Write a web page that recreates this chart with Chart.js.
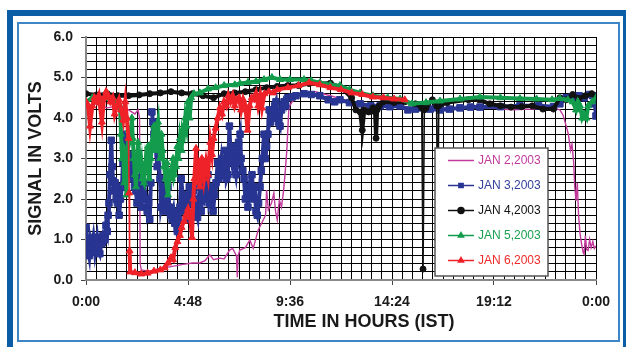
<!DOCTYPE html>
<html>
<head>
<meta charset="utf-8">
<script src="https://cdn.jsdelivr.net/npm/chart.js@4.4.1/dist/chart.umd.min.js"></script>
<style>
  body { margin: 0; width: 627px; height: 347px; overflow: hidden; position: relative; background: #fff; }
  .outer { position: absolute; left: 7px; top: 10px; width: 619px; height: 400px; box-sizing: border-box;
           border-top: 6px solid #0b5da6; border-left: 6px solid #0b5da6; border-right: 3px solid #0b5da6; }
  .inner { position: absolute; left: 17px; top: 22px; width: 603px; height: 320px; box-sizing: border-box;
           border: 2px solid #3f86c8; }
  #c { position: absolute; left: 0; top: 0; }
  .xtitle { position: absolute; left: 214px; width: 300px; top: 311px; text-align: center;
            font: bold 18px "Liberation Sans", Arial, sans-serif; line-height: 20px; color: #1a1a1a; }
</style>
</head>
<body>
<div class="outer"></div>
<div class="inner"></div>
<canvas id="c" width="627" height="347"></canvas>
<div class="xtitle">TIME IN HOURS (IST)</div>
<script>
// series names
const seriesNames = ["JAN 2,2003", "JAN 3,2003", "JAN 4,2003", "JAN 5,2003", "JAN 6,2003"];

// tick labels
const timeLabels = ["0:00", "4:48", "9:36", "14:24", "19:12", "0:00"];
const voltLabels = ["0.0", "1.0", "2.0", "3.0", "4.0", "5.0", "6.0"];

// JAN 2 (time in hours, signal in volts)
const jan2Time = [0, 0.5, 1.0, 1.5, 2.0, 2.3, 2.45, 2.52, 2.55, 2.6, 3.0, 3.5, 4.0, 4.5, 5.0, 5.36, 5.6, 5.83, 6.0, 6.3, 6.5,
  6.76, 6.9, 7.08, 7.12, 7.16, 7.24, 7.5, 7.71, 7.87, 8.1, 8.34, 8.45, 8.5, 8.58, 8.73, 8.84, 8.92, 9.0, 9.1, 9.2, 9.3,
  9.38, 9.45, 9.55, 9.7, 10.0, 10.4, 10.8, 11.5, 12.5, 13.5, 15.0, 17.0, 19.0, 20.0, 21.0, 22.0, 22.3, 22.45, 22.6,
  22.7, 22.8, 22.87, 22.95, 23.0, 23.06, 23.12, 23.18, 23.25, 23.32, 23.4, 23.44, 23.5, 23.56, 23.63, 23.7, 23.77,
  23.85, 23.92, 24.0];
const jan2Volts = [4.3, 4.35, 4.25, 4.3, 4.2, 4.1, 4.2, 4.0, 0.4, 0.25, 0.22, 0.28, 0.33, 0.38, 0.42, 0.42, 0.48, 0.62, 0.5, 0.54, 0.52,
  0.74, 0.78, 0.6, 0.07, 0.6, 0.74, 0.8, 0.99, 0.78, 1.23, 1.48, 1.6, 2.22, 1.73, 1.9, 2.15, 1.7, 1.48, 1.98, 1.8, 2.22,
  2.7, 3.2, 4.27, 4.4, 4.55, 4.6, 4.65, 4.55, 4.4, 4.3, 4.25, 4.25, 4.25, 4.2, 4.22, 4.25, 4.2, 4.07, 3.8,
  3.6, 3.2, 3.35, 2.9, 2.3, 1.95, 2.4, 1.6, 1.14, 0.9, 0.67, 0.64, 1.1, 0.75, 0.73, 1.0, 0.8, 0.95, 0.78, 0.84];

// JAN 3
const jan3Time = [0, 0.05, 0.1, 0.15, 0.2, 0.28, 0.35, 0.42, 0.47, 0.52, 0.58, 0.65, 0.72, 0.8, 0.88, 0.94, 1.0, 1.04, 1.08,
  1.13, 1.19, 1.23, 1.28, 1.33, 1.37, 1.42, 1.47, 1.52, 1.56, 1.62, 1.69, 1.74, 1.79, 1.84, 1.9, 1.98, 2.05, 2.1, 2.16,
  2.22, 2.28, 2.35, 2.4, 2.45, 2.54, 2.6, 2.66, 2.73, 2.82, 2.88, 2.95, 3.0, 3.05, 3.1, 3.15, 3.2, 3.25, 3.3, 3.35, 3.4,
  3.48, 3.53, 3.6, 3.67, 3.72, 3.8, 3.86, 3.92, 3.98, 4.05, 4.12, 4.18, 4.24, 4.3, 4.36, 4.42, 4.48, 4.55, 4.61, 4.67,
  4.73, 4.8, 4.86, 4.92, 4.99, 5.05, 5.12, 5.18, 5.25, 5.3, 5.36, 5.42, 5.48, 5.55, 5.62, 5.68, 5.74, 5.8, 5.86, 5.93,
  5.98, 6.05, 6.12, 6.2, 6.25, 6.3, 6.38, 6.45, 6.5, 6.58, 6.62, 6.68, 6.75, 6.8, 6.87, 6.95, 7.0, 7.06, 7.12, 7.18,
  7.25, 7.3, 7.38, 7.44, 7.5, 7.56, 7.62, 7.7, 7.75, 7.81, 7.88, 7.94, 8.0, 8.06, 8.12, 8.19, 8.25, 8.3, 8.38, 8.44,
  8.5, 8.56, 8.62, 8.68, 8.75, 8.82, 8.88, 8.94, 9.0, 9.06, 9.13, 9.2, 9.28, 9.32, 9.4, 9.5, 9.7, 9.88, 10.26, 10.6,
  11.0, 11.4, 11.7, 11.95, 12.4, 12.9, 13.4, 13.84, 14.3, 14.78, 15.15, 15.5, 15.72, 16.2, 16.66, 17.1, 17.6, 18.1,
  18.54, 19.5, 20.42, 21.3, 22.0, 22.3, 22.6, 22.87, 23.2, 23.44, 23.7, 23.85, 23.95, 24.0];
const jan3Volts = [1.3, 0.9, 0.75, 0.6, 1.0, 0.8, 1.05, 0.7, 0.9, 1.05, 0.75, 0.65, 0.9, 1.1, 1.0, 1.35, 1.2, 1.6, 1.9,
  2.6, 3.45, 2.8, 2.45, 2.2, 2.4, 2.0, 2.3, 1.9, 1.6, 2.0, 2.3, 2.9, 3.6, 3.0, 2.6, 2.6, 3.1, 2.8, 2.9,
  2.5, 2.3, 2.2, 1.9, 2.2, 2.5, 1.8, 2.1, 2.4, 2.0, 1.7, 1.9, 1.5, 2.4, 4.15, 3.9, 3.6, 3.4, 3.3, 2.8, 3.1,
  2.5, 1.8, 2.0, 2.3, 1.7, 2.0, 2.3, 1.8, 1.6, 1.5, 1.7, 1.4, 1.5, 1.2, 1.5, 1.8, 2.5, 2.1, 1.7, 2.1,
  1.8, 1.5, 2.3, 2.0, 1.9, 2.2, 1.8, 1.7, 1.55, 2.0, 2.3, 1.7, 2.1, 2.0, 2.4, 2.2, 2.6, 1.9, 2.0, 2.3,
  1.7, 2.1, 2.4, 2.9, 2.5, 2.6, 3.0, 2.7, 2.8, 3.2, 2.5, 2.6, 3.8, 3.1, 2.9, 3.3, 2.8, 2.6, 2.9, 3.4,
  3.6, 3.0, 2.7, 2.5, 2.0, 2.3, 1.8, 2.3, 2.2, 2.6, 2.0, 2.3, 1.7, 1.6, 1.9, 2.3, 2.7, 3.0, 3.6, 3.0,
  3.3, 3.6, 4.2, 3.9, 4.0, 4.2, 4.3, 4.4, 4.0, 3.9, 3.8, 4.2, 4.3, 4.4, 4.3, 4.5, 4.52, 4.55, 4.6, 4.58,
  4.55, 4.45, 4.4, 4.45, 4.38, 4.35, 4.3, 4.3, 4.28, 4.3, 4.2, 4.22, 4.25, 4.22, 4.2, 4.22, 4.25, 4.27,
  4.27, 4.28, 4.3, 4.3, 4.28, 4.35, 4.5, 4.52, 4.55, 4.5, 4.58, 4.55, 4.35, 4.05];

// JAN 4
const jan4Time = [0, 0.5, 1.0, 1.5, 2.0, 2.5, 3.0, 3.5, 4.0, 4.5, 5.0, 5.5, 6.0, 6.5, 7.0, 7.5, 8.0, 8.5, 9.0, 9.5, 10.0,
  10.5, 11.0, 11.5, 12.0, 12.5, 12.7, 12.9, 13.0, 13.1, 13.3, 13.5, 13.6, 13.65, 13.7, 13.8, 14.0, 14.5, 15.0, 15.5,
  15.8, 15.86, 15.92, 16.0, 16.3, 16.5, 16.55, 16.6, 17.0, 18.0, 18.5, 19.0, 19.5, 20.0, 20.5, 21.0, 21.5, 22.0, 22.3,
  22.6, 22.9, 23.2, 23.5, 23.8, 24.0];
const jan4Volts = [4.6, 4.57, 4.6, 4.55, 4.55, 4.57, 4.6, 4.62, 4.65, 4.62, 4.6, 4.55, 4.5, 4.6, 4.62, 4.65, 4.7, 4.75, 4.78, 4.8, 4.8,
  4.85, 4.85, 4.86, 4.75, 4.5, 4.2, 4.15, 3.7, 4.2, 4.15, 4.25, 4.15, 3.5, 4.2, 4.3, 4.4, 4.38, 4.4, 4.35,
  4.25, 0.27, 4.2, 4.25, 4.45, 4.3, 1.0, 4.3, 4.38, 4.45, 4.45, 4.35, 4.3, 4.27, 4.28, 4.3, 4.22, 4.22, 4.5,
  4.45, 4.58, 4.48, 4.55, 4.6, 4.5];

// JAN 5
const jan5Time = [0, 0.3, 0.6, 0.9, 1.2, 1.5, 1.6, 1.65, 1.7, 1.75, 1.8, 1.85, 1.9, 1.95, 2.0, 2.05, 2.1, 2.16, 2.2, 2.25,
  2.3, 2.35, 2.4, 2.45, 2.5, 2.54, 2.6, 2.65, 2.73, 2.8, 2.85, 2.92, 2.97, 3.05, 3.1, 3.2, 3.25, 3.3, 3.39, 3.45, 3.48,
  3.55, 3.6, 3.67, 3.75, 3.8, 3.86, 3.92, 4.0, 4.05, 4.1, 4.15, 4.24, 4.3, 4.35, 4.42, 4.5, 4.55, 4.61, 4.67, 4.73,
  4.8, 4.88, 4.95, 5.08, 5.36, 5.74, 6.1, 6.5, 7.0, 7.25, 7.62, 8.0, 8.38, 8.75, 9.13, 9.6, 10.26, 10.6, 11.0, 11.5,
  11.95, 12.4, 12.9, 13.5, 14.2, 14.78, 15.34, 16.0, 16.66, 17.6, 18.54, 19.5, 20.42, 21.2, 21.93, 22.3, 22.68, 22.9,
  23.06, 23.15, 23.25, 23.35, 23.44, 23.55, 23.63, 23.82, 24.0];
const jan5Volts = [4.4, 4.5, 4.45, 4.5, 4.45, 4.4, 4.3, 3.6, 3.0, 3.3, 2.4, 3.2, 2.1, 3.0, 3.7, 3.4, 3.5, 4.0, 3.5, 3.0,
  2.6, 2.3, 2.9, 3.4, 3.1, 2.7, 2.9, 2.5, 2.4, 2.9, 2.7, 3.3, 2.5, 3.0, 3.4, 3.8, 3.2, 3.6, 3.9, 3.3, 3.0,
  3.6, 3.2, 2.8, 2.5, 2.9, 2.1, 2.5, 2.7, 2.5, 3.0, 2.6, 2.8, 3.3, 3.0, 3.5, 3.2, 3.7, 3.6, 4.0, 3.8,
  4.4, 4.0, 4.5, 4.6, 4.62, 4.72, 4.75, 4.8, 4.82, 4.85, 4.88, 4.9, 4.95, 5.0, 4.95, 4.95, 4.95, 4.92, 4.87, 4.82,
  4.8, 4.7, 4.62, 4.55, 4.5, 4.47, 4.35, 4.38, 4.42, 4.47, 4.52, 4.5, 4.48, 4.47, 4.45, 4.48, 4.45, 4.4,
  4.2, 4.4, 4.3, 4.0, 4.1, 4.0, 4.3, 4.4, 4.5];

// JAN 6
const jan6Time = [0, 0.1, 0.19, 0.3, 0.4, 0.5, 0.6, 0.75, 0.85, 0.95, 1.05, 1.15, 1.25, 1.35, 1.45, 1.55, 1.65, 1.75, 1.85,
  1.92, 2.0, 2.03, 2.05, 2.08, 2.3, 2.6, 2.9, 3.2, 3.5, 3.7, 3.86, 4.0, 4.1, 4.2, 4.3, 4.42, 4.5, 4.61, 4.7, 4.8, 4.9,
  4.99, 5.05, 5.1, 5.18, 5.25, 5.3, 5.36, 5.45, 5.55, 5.65, 5.74, 5.85, 5.93, 6.0, 6.1, 6.2, 6.3, 6.4, 6.5, 6.6, 6.7,
  6.8, 6.9, 7.0, 7.1, 7.2, 7.3, 7.4, 7.5, 7.6, 7.7, 7.8, 7.9, 8.0, 8.1, 8.2, 8.28, 8.4, 8.6, 8.8, 9.0, 9.5, 10.0, 10.5,
  11.0, 11.5, 12.0, 12.5, 13.0, 13.5, 14.0, 14.5, 15.0];
const jan6Volts = [4.4, 4.3, 3.8, 4.3, 4.5, 4.4, 4.55, 3.9, 4.5, 4.65, 4.55, 4.4, 4.5, 4.1, 4.3, 4.45, 4.2, 3.95, 4.4,
  4.0, 3.5, 2.15, 0.72, 0.2, 0.18, 0.15, 0.17, 0.22, 0.25, 0.3, 0.42, 0.55, 0.5, 0.8, 0.95, 1.1, 1.3, 1.45, 1.6, 1.75, 1.55,
  1.05, 2.0, 2.5, 3.25, 2.4, 2.9, 2.3, 3.0, 2.5, 2.9, 2.6, 3.4, 3.1, 3.5, 3.75, 4.0, 4.25, 4.1, 4.4, 4.3, 4.55,
  4.4, 4.55, 4.3, 4.45, 4.5, 4.2, 4.45, 4.3, 3.7, 4.3, 4.5, 4.45, 4.6, 4.3, 4.55, 4.25, 4.6, 4.65, 4.62, 4.7, 4.75, 4.8, 4.87,
  4.82, 4.75, 4.7, 4.62, 4.58, 4.52, 4.5, 4.47, 4.45];

const font = '"Liberation Sans", Arial, sans-serif';
const colors = ["#c23a9c", "#283592", "#111111", "#139c4c", "#ee2228"];
const textColors = ["#c23a9c", "#34409a", "#111111", "#1ba052", "#ee2a2a"];
const styles = [false, "rect", "circle", "triangle", "triangle"];
const radii = [0, 4.6, 3, 4, 4];

const toPoints = (ts, vs) => ts.map((t, i) => ({ x: t, y: vs[i] }));
const allData = [
  toPoints(jan2Time, jan2Volts),
  toPoints(jan3Time, jan3Volts),
  toPoints(jan4Time, jan4Volts),
  toPoints(jan5Time, jan5Volts),
  toPoints(jan6Time, jan6Volts)
];

const datasets = seriesNames.map((name, i) => ({
  label: name,
  data: allData[i],
  borderColor: colors[i],
  backgroundColor: colors[i],
  borderWidth: i === 0 ? 1.4 : 4,
  pointStyle: styles[i],
  pointRadius: radii[i],
  pointBorderWidth: 1,
  pointBackgroundColor: colors[i],
  pointBorderColor: colors[i],
  order: 5 - i,
  segment: i === 0 ? undefined : {
    // long jumps are thin strokes, short steps form the thick noisy band
    borderWidth: ctx => Math.abs(ctx.p1.parsed.y - ctx.p0.parsed.y) > 1.3 ? 1.6 : 4
  }
}));

// legend box sitting inside the plot
const boxLegend = {
  id: "boxLegend",
  afterDraw(chart) {
    const ctx = chart.ctx;
    const ca = chart.chartArea;
    const left = ca.left + 349, top = ca.top + 111, w = 113, h = 128;
    ctx.save();
    ctx.fillStyle = "#fff";
    ctx.fillRect(left, top, w, h);
    ctx.strokeStyle = "#555";
    ctx.lineWidth = 1.5;
    ctx.strokeRect(left, top, w, h);
    ctx.font = "12px " + font;
    ctx.textBaseline = "middle";
    seriesNames.forEach((name, i) => {
      const y = top + 12.5 + i * 25;
      ctx.strokeStyle = colors[i];
      ctx.lineWidth = 1.5;
      ctx.beginPath();
      ctx.moveTo(left + 13, y);
      ctx.lineTo(left + 39, y);
      ctx.stroke();
      if (styles[i]) {
        ctx.fillStyle = colors[i];
        Chart.helpers.drawPoint(ctx, { pointStyle: styles[i], radius: 3, borderWidth: 1 }, left + 26, y);
      }
      ctx.fillStyle = textColors[i];
      ctx.fillText(name, left + 43, y + 0.5);
    });
    ctx.restore();
  }
};

new Chart(document.getElementById("c"), {
  type: "line",
  data: { datasets },
  options: {
    responsive: false,
    animation: false,
    devicePixelRatio: 1,
    layout: { padding: { left: 20, right: 31, top: 37, bottom: 0 } },
    elements: { line: { tension: 0 } },
    plugins: { legend: { display: false }, tooltip: { enabled: false } },
    scales: {
      x: {
        type: "linear",
        min: 0,
        max: 24,
        afterFit: s => { s.height = 67; },
        ticks: {
          stepSize: 0.48,
          autoSkip: false,
          maxRotation: 0,
          padding: 9,
          color: "#1a1a1a",
          font: { family: font, size: 14, weight: "bold" },
          callback: v => {
            const k = Math.round(v / 0.48);
            return k % 10 === 0 ? timeLabels[k / 10] : "";
          }
        },
        grid: {
          color: "#000",
          lineWidth: 1,
          tickLength: 5,
          tickColor: c => (c.index % 10 === 0 ? "#444" : "rgba(0,0,0,0)")
        },
        border: { color: "#888", width: 2 }
      },
      y: {
        min: 0,
        max: 6,
        afterFit: s => { s.width = 66; },
        ticks: {
          stepSize: 0.2,
          autoSkip: false,
          padding: 8,
          color: "#1a1a1a",
          font: { family: font, size: 14, weight: "bold" },
          callback: v => {
            const k = Math.round(v / 0.2);
            return k % 5 === 0 ? voltLabels[k / 5] : "";
          }
        },
        grid: {
          color: "#000",
          lineWidth: 1,
          tickLength: 5,
          tickColor: c => (c.index % 5 === 0 ? "#444" : "rgba(0,0,0,0)")
        },
        border: { color: "#888", width: 2 },
        title: {
          display: true,
          text: "SIGNAL IN VOLTS",
          color: "#1a1a1a",
          font: { family: font, size: 18, weight: "bold" },
          padding: { top: 5, bottom: 0 }
        }
      }
    }
  },
  plugins: [boxLegend]
});
</script>
</body>
</html>
